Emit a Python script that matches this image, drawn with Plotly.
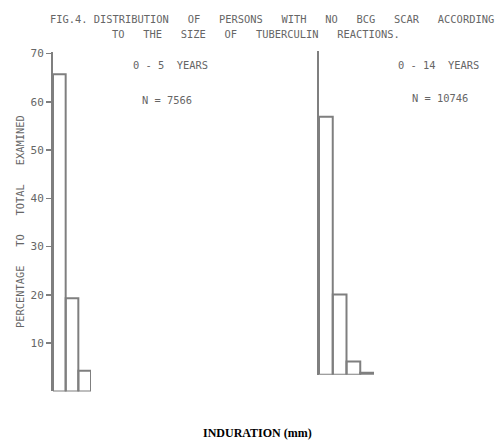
import plotly.graph_objects as go

W, H = 497, 445

# Data (percent of total examined per induration class)
bins_left = [0.5, 1.5, 2.5]
pct_0_5 = [65.7, 19.3, 4.3]
bins_right = [0.5, 1.5, 2.5, 3.5]
pct_0_14 = [53.4, 16.6, 2.7, 0.4]
ytick_vals = [10, 20, 30, 40, 50, 60, 70]
ytick_text = ["10", "20", "30", "40", "50", "60", "70"]

LINE = "#7f7f7f"
TXT = "#666666"
MONO = "DejaVu Sans Mono"

def px(x):
    return x / W

def py(y):
    return 1 - y / H

fig = go.Figure()
fig.add_trace(go.Bar(x=bins_left, y=pct_0_5, width=1, xaxis="x", yaxis="y",
                     marker=dict(color="rgba(0,0,0,0)", line=dict(color=LINE, width=2)),
                     showlegend=False, hoverinfo="skip"))
fig.add_trace(go.Bar(x=bins_right, y=pct_0_14, width=1, xaxis="x2", yaxis="y2",
                     marker=dict(color="rgba(0,0,0,0)", line=dict(color=LINE, width=2)),
                     showlegend=False, hoverinfo="skip"))

fig.update_layout(
    width=W, height=H,
    margin=dict(l=0, r=0, t=0, b=0),
    paper_bgcolor="white", plot_bgcolor="rgba(0,0,0,0)",
    bargap=0,
    xaxis=dict(domain=[px(53), px(91)], range=[0, 3], showgrid=False, zeroline=False,
               showticklabels=False, ticks="", showline=False, anchor="y"),
    yaxis=dict(domain=[py(391), py(48)], range=[0, 70.4], showgrid=False, zeroline=False,
               showline=True, linecolor=LINE, linewidth=2, ticks="outside", ticklen=5,
               tickcolor=LINE, tickwidth=1.5, tickvals=ytick_vals, ticktext=ytick_text,
               tickfont=dict(family=MONO, size=11, color=TXT), anchor="x"),
    xaxis2=dict(domain=[px(319), px(374)], range=[0, 4], showgrid=False, zeroline=False,
                showticklabels=False, ticks="", showline=False, anchor="y2"),
    yaxis2=dict(domain=[py(374), py(47)], range=[0, 67.1], showgrid=False, zeroline=False,
                showline=True, linecolor=LINE, linewidth=2, ticks="", showticklabels=False,
                anchor="x2"),
    font=dict(family=MONO, color=TXT),
)

ann = [
    dict(text="FIG.4. DISTRIBUTION   OF   PERSONS   WITH   NO   BCG   SCAR   ACCORDING",
         x=px(272), y=py(15), size=10.4),
    dict(text="TO   THE   SIZE   OF   TUBERCULIN   REACTIONS.",
         x=px(256), y=py(30), size=10.4),
    dict(text="0 - 5  YEARS", x=px(170), y=py(62), size=10.4),
    dict(text="N = 7566", x=px(167), y=py(97), size=10.4),
    dict(text="0 - 14  YEARS", x=px(438), y=py(62), size=10.4),
    dict(text="N = 10746", x=px(440), y=py(95), size=10.4),
]
for a in ann:
    fig.add_annotation(text=a["text"], x=a["x"], y=a["y"], xref="paper", yref="paper",
                       showarrow=False, xanchor="center", yanchor="middle",
                       font=dict(family=MONO, size=a["size"], color=TXT))

fig.add_annotation(text="PERCENTAGE   TO   TOTAL   EXAMINED", x=px(20), y=py(220),
                   xref="paper", yref="paper", showarrow=False, textangle=-90,
                   xanchor="center", yanchor="middle",
                   font=dict(family=MONO, size=10.4, color=TXT))

fig.add_annotation(text="<b>INDURATION (mm)</b>", x=px(257), y=py(433),
                   xref="paper", yref="paper", showarrow=False,
                   xanchor="center", yanchor="middle",
                   font=dict(family="Liberation Serif", size=12, color="black"))

fig.write_html("out.html",
               config={"displayModeBar": False, "staticPlot": True},
               post_script="document.body.style.margin='0';document.body.style.overflow='hidden';")
